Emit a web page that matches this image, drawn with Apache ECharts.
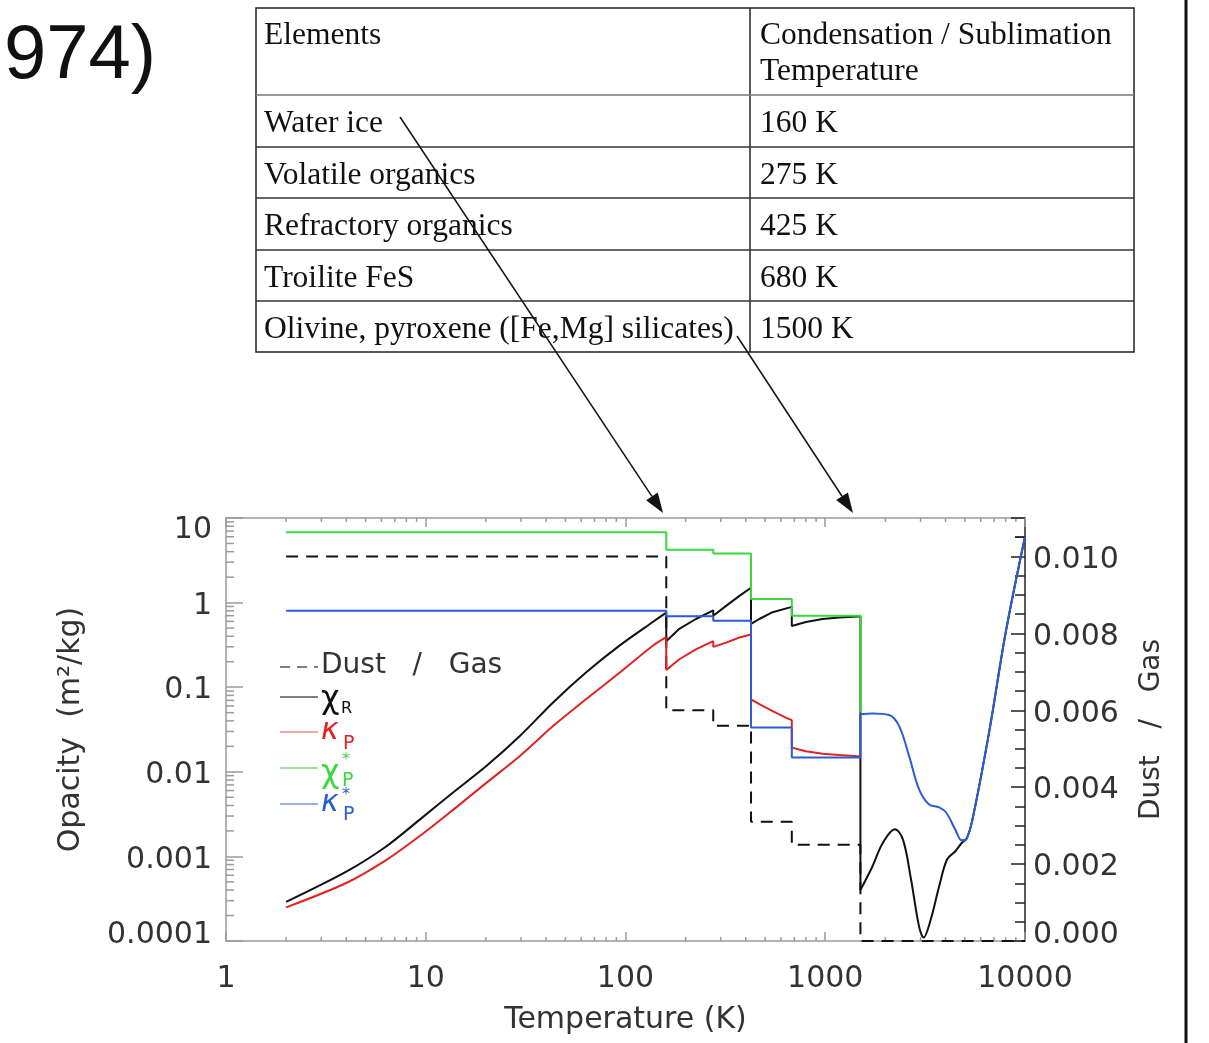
<!DOCTYPE html>
<html>
<head>
<meta charset="utf-8">
<script src="https://cdn.jsdelivr.net/npm/echarts@6/dist/echarts.min.js"></script>
<style>
  html, body { margin: 0; padding: 0; background: #fff; }
  #chart { width: 1209px; height: 1043px; }
</style>
</head>
<body>
<div id="chart"></div>
<script>
// 表格内容
var tableElements = ["Water ice", "Volatile organics", "Refractory organics", "Troilite FeS", "Olivine, pyroxene ([Fe,Mg] silicates)"];
var tableTemps = ["160 K", "275 K", "425 K", "680 K", "1500 K"];

// 刻度标签
var xTickLabels = ["1", "10", "100", "1000", "10000"];
var yTickLabels = ["0.0001", "0.001", "0.01", "0.1", "1", "10"];
var dustTickLabels = ["0.000", "0.002", "0.004", "0.006", "0.008", "0.010"];

// Dust / Gas（右轴）
var dustT = [2, 160, 160, 275, 275, 425, 425, 680, 680, 1500, 1500, 10000];
var dustGas = [0.0100, 0.0100, 0.0060, 0.0060, 0.0056, 0.0056, 0.0031, 0.0031, 0.0025, 0.0025, 0, 0];

// chi_R 黑线：低温段 / 台阶段 / 高温段
var chiRLowT = [2, 4, 6.36, 9.33, 13.7, 20.1, 29.5, 43.4, 63.6, 93.3, 137, 160];
var chiRLow = [2.9e-4, 6.6e-4, 1.32e-3, 2.72e-3, 5.7e-3, 0.0117, 0.0263, 0.066, 0.15, 0.31, 0.59, 0.76];
var chiRMidT = [160, 160, 186, 225, 275, 275, 320, 372, 425, 425, 468, 545, 680, 680, 800, 970, 1175, 1450, 1500, 1500];
var chiRMid = [0.76, 0.35, 0.49, 0.64, 0.81, 0.70, 0.92, 1.2, 1.5, 0.56, 0.64, 0.77, 0.89, 0.53, 0.59, 0.64, 0.667, 0.686, 0.69, 4.0e-4];
var chiRHighT = [1500, 1722, 1940, 2230, 2450, 2690, 2950, 3110, 3370, 3715, 4070, 4480, 4820, 5100, 5453, 6607, 8000, 10000];
var chiRHigh = [4.0e-4, 7.6e-4, 1.44e-3, 2.1e-3, 1.58e-3, 5.3e-4, 1.48e-4, 1.1e-4, 1.78e-4, 4.4e-4, 9.2e-4, 1.15e-3, 1.44e-3, 1.62e-3, 2.7e-3, 0.029, 0.44, 6.0];

// kappa_P 红线
var kapPLowT = [2, 4, 6.36, 9.33, 13.7, 20.1, 29.5, 43.4, 63.6, 93.3, 137, 160];
var kapPLow = [2.5e-4, 4.85e-4, 9.1e-4, 1.74e-3, 3.55e-3, 7.4e-3, 0.0153, 0.0347, 0.0724, 0.148, 0.309, 0.39];
var kapPMidT = [160, 160, 186, 225, 275, 275, 319, 372, 425, 425, 468, 545, 635, 680, 680, 800, 970, 1175, 1450, 1500];
var kapPMid = [0.39, 0.16, 0.214, 0.28, 0.35, 0.30, 0.336, 0.387, 0.42, 0.072, 0.063, 0.052, 0.0436, 0.0408, 0.0193, 0.0175, 0.0163, 0.0158, 0.0153, 0.0152];

// chi_P* 绿线
var chiPsT = [2, 160, 160, 275, 275, 425, 425, 680, 680, 1500, 1500];
var chiPs = [6.8, 6.8, 4.2, 4.2, 3.8, 3.8, 1.1, 1.1, 0.70, 0.70, 0.05];

// kappa_P* 蓝线：台阶段 / 高温段
var kapPsMidT = [2, 160, 160, 275, 275, 425, 425, 680, 680, 1500, 1500];
var kapPsMid = [0.80, 0.80, 0.69, 0.69, 0.61, 0.61, 0.0335, 0.0335, 0.0148, 0.0148, 0.048];
var kapPsHighT = [1500, 1722, 2089, 2344, 2630, 2950, 3311, 3715, 4030, 4466, 4820, 5100, 5453, 6607, 8000, 10000];
var kapPsHigh = [0.048, 0.049, 0.047, 0.0347, 0.0153, 0.0062, 0.0041, 0.0038, 0.0033, 0.0021, 0.00155, 0.00162, 0.0027, 0.029, 0.44, 6.0];

function zip(a, b) {
  return a.map(function (t, i) { return [t, b[i]]; });
}

var axisFont = "DejaVu Sans";
var textColor = "#333";
var frameGray = "#9a9a9a";
var cBlack = "#111", cRed = "#e32222", cGreen = "#3ad83a", cBlue = "#2a5cd6";

var chart = echarts.init(document.getElementById("chart"));

function lineSeries(name, T, v, color, yIdx, smooth, dash) {
  return {
    name: name,
    type: "line",
    xAxisIndex: 0,
    yAxisIndex: yIdx,
    data: zip(T, v),
    symbol: "none",
    smooth: smooth,
    animation: false,
    lineStyle: { color: color, width: 2, type: dash || "solid" },
  };
}

// 标签微调：首尾标签向内收
function labelRich(size) {
  var base = { fontFamily: axisFont, fontSize: size, color: textColor };
  return {
    n: Object.assign({ padding: [7, 0, 0, 0] }, base),
    hi: Object.assign({ padding: [25, 0, 0, 0] }, base),
    lo: Object.assign({ padding: [0, 0, 12, 0] }, base),
  };
}

var option = {
  backgroundColor: "#fff",
  animation: false,
  grid: { left: 226, right: 184, top: 518, bottom: 102, outerBoundsMode: "none" },
  xAxis: [
    {
      type: "log",
      logBase: 10,
      min: 1,
      max: 10000,
      position: "bottom",
      name: "Temperature (K)",
      nameLocation: "middle",
      nameGap: 64,
      nameTextStyle: { fontFamily: axisFont, fontSize: 30, color: textColor },
      axisLine: { lineStyle: { color: frameGray, width: 1.5 } },
      axisTick: { inside: true, length: 9, lineStyle: { color: frameGray, width: 1.5 } },
      axisLabel: {
        margin: 23,
        fontFamily: axisFont,
        fontSize: 30,
        color: textColor,
        formatter: function (v) { return xTickLabels[Math.round(Math.log10(v))] || ""; },
      },
      splitLine: { show: false },
    },
    {
      type: "log",
      logBase: 10,
      min: 1,
      max: 10000,
      position: "top",
      axisLine: { lineStyle: { color: frameGray, width: 1.5 } },
      axisTick: { inside: true, length: 9, lineStyle: { color: frameGray, width: 1.5 } },
      axisLabel: { show: false },
      splitLine: { show: false },
    },
  ],
  yAxis: [
    {
      type: "log",
      logBase: 10,
      min: 0.0001,
      max: 10,
      position: "left",
      name: "Opacity  (m²/kg)",
      nameLocation: "middle",
      nameGap: 140,
      nameTextStyle: { fontFamily: axisFont, fontSize: 30, color: textColor },
      axisLine: { lineStyle: { color: frameGray, width: 1.5 } },
      axisTick: { inside: true, length: 17, lineStyle: { color: frameGray, width: 1.5 } },
      axisLabel: {
        margin: 14,
        fontFamily: axisFont,
        fontSize: 30,
        color: textColor,
        rich: labelRich(30),
        formatter: function (v) {
          var k = Math.round(Math.log10(v)) + 4;
          if (!yTickLabels[k]) return "";
          var tag = k === 0 ? "lo" : (k === yTickLabels.length - 1 ? "hi" : "n");
          return "{" + tag + "|" + yTickLabels[k] + "}";
        },
      },
      splitLine: { show: false },
    },
    {
      type: "value",
      min: 0,
      max: 0.011,
      interval: 0.002,
      position: "right",
      name: "Dust   /   Gas",
      nameLocation: "middle",
      nameGap: 113,
      nameRotate: 90,
      nameTextStyle: { fontFamily: axisFont, fontSize: 28, color: textColor },
      axisLine: { lineStyle: { color: "#222", width: 1.5 } },
      axisTick: { inside: true, length: 14, lineStyle: { color: "#222", width: 1.5 } },
      minorTick: { show: true, splitNumber: 4, length: 10, lineStyle: { color: "#222", width: 1.5 } },
      axisLabel: {
        margin: 8,
        fontFamily: axisFont,
        fontSize: 30,
        color: textColor,
        rich: labelRich(30),
        formatter: function (v) {
          var k = Math.round(v / 0.002);
          if (Math.abs(v - k * 0.002) > 1e-9 || !dustTickLabels[k]) return "";
          return "{" + (k === 0 ? "lo" : "n") + "|" + dustTickLabels[k] + "}";
        },
      },
      splitLine: { show: false },
    },
  ],
  series: [
    lineSeries("Dust / Gas", dustT, dustGas, cBlack, 1, false, [12, 8]),
    lineSeries("chiR", chiRLowT, chiRLow, cBlack, 0, 0.3),
    lineSeries("chiR", chiRMidT, chiRMid, cBlack, 0, false),
    lineSeries("chiR", chiRHighT, chiRHigh, cBlack, 0, 0.35),
    lineSeries("kappaP", kapPLowT, kapPLow, cRed, 0, 0.3),
    lineSeries("kappaP", kapPMidT, kapPMid, cRed, 0, false),
    lineSeries("chiPstar", chiPsT, chiPs, cGreen, 0, false),
    lineSeries("kappaPstar", kapPsMidT, kapPsMid, cBlue, 0, false),
    lineSeries("kappaPstar", kapPsHighT, kapPsHigh, cBlue, 0, 0.35),
  ],
};

chart.setOption(option);

// ---- 其余图形：次刻度、图例、表格、箭头 ----
var g = [];

// x 轴次刻度（上下）
var yTopPx = chart.convertToPixel({ yAxisIndex: 0 }, 10);
var yBotPx = chart.convertToPixel({ yAxisIndex: 0 }, 0.0001);
var xLeftPx = chart.convertToPixel({ xAxisIndex: 0 }, 1);
var xRightPx = chart.convertToPixel({ xAxisIndex: 0 }, 10000);
for (var d = 1; d <= 1000; d *= 10) {
  for (var m = 2; m <= 9; m++) {
    var px = chart.convertToPixel({ xAxisIndex: 0 }, m * d);
    g.push({ type: "line", shape: { x1: px, y1: yBotPx, x2: px, y2: yBotPx - 4 }, style: { stroke: frameGray, lineWidth: 1.5 } });
    g.push({ type: "line", shape: { x1: px, y1: yTopPx, x2: px, y2: yTopPx + 4 }, style: { stroke: frameGray, lineWidth: 1.5 } });
  }
}
// 左 y 轴次刻度
for (var e = 0.0001; e < 5; e *= 10) {
  for (var n = 2; n <= 9; n++) {
    var py = chart.convertToPixel({ yAxisIndex: 0 }, n * e);
    g.push({ type: "line", shape: { x1: xLeftPx, y1: py, x2: xLeftPx + 8, y2: py }, style: { stroke: frameGray, lineWidth: 1.5 } });
  }
}
// 右轴顶端多出的次刻度
var pyTop = chart.convertToPixel({ yAxisIndex: 1 }, 0.0105);
g.push({ type: "line", shape: { x1: xRightPx, y1: pyTop, x2: xRightPx - 10, y2: pyTop }, style: { stroke: "#222", lineWidth: 1.5 } });

// 图例
var lgX1 = 280, lgX2 = 318, tx = 321;
function lgLine(y, color, dash) {
  g.push({ type: "line", shape: { x1: lgX1, y1: y, x2: lgX2, y2: y }, style: { stroke: color, lineWidth: 1.5, lineDash: dash || null } });
}
function lgText(x, y, txt, size, color, italic) {
  g.push({ type: "text", x: x, y: y, style: { text: txt, fontFamily: axisFont, fontSize: size, fontStyle: italic ? "italic" : "normal", fill: color, verticalAlign: "middle", align: "left" } });
}
lgLine(667, "#555", [10, 7]);
lgText(tx, 666, "Dust   /   Gas", 28, textColor);
lgLine(697, "#555");
lgText(tx, 700, "χ", 32, cBlack);
lgText(341, 709, "R", 16, cBlack);
lgLine(732, "#e88");
lgText(tx, 731, "κ", 30, cRed, true);
lgText(343, 744, "P", 19, cRed);
lgLine(768, "#7d7");
lgText(tx, 774, "χ", 32, cGreen);
lgText(342, 781, "P", 19, cGreen);
lgText(342, 760, "*", 16, cGreen);
lgLine(804, "#79d");
lgText(tx, 803, "κ", 30, cBlue, true);
lgText(343, 815, "P", 19, cBlue);
lgText(342, 795, "*", 16, cBlue);

// 表格
var tL = 256, tM = 750, tR = 1134;
var rowY = [8, 95, 147, 198, 250, 301, 352];
var serif = "Liberation Serif";
g.push({ type: "rect", shape: { x: tL, y: rowY[0], width: tR - tL, height: rowY[6] - rowY[0] }, style: { fill: null, stroke: "#222", lineWidth: 1.5 } });
g.push({ type: "line", shape: { x1: tM, y1: rowY[0], x2: tM, y2: rowY[6] }, style: { stroke: "#222", lineWidth: 1.5 } });
for (var r = 1; r <= 5; r++) {
  g.push({ type: "line", shape: { x1: tL, y1: rowY[r], x2: tR, y2: rowY[r] }, style: { stroke: r === 1 ? "#777" : "#333", lineWidth: 1.5 } });
}
function cell(x, y, txt) {
  g.push({ type: "text", x: x, y: y, style: { text: txt, fontFamily: serif, fontSize: 31.5, fill: "#111", verticalAlign: "middle", align: "left" } });
}
cell(264, 36, "Elements");
cell(760, 36, "Condensation / Sublimation");
cell(760, 72, "Temperature");
for (var i = 0; i < tableElements.length; i++) {
  var cy = (rowY[i + 1] + rowY[i + 2]) / 2 + 3;
  cell(264, cy, tableElements[i]);
  cell(760, cy, tableTemps[i]);
}

// 箭头
function arrow(x1, y1, x2, y2) {
  var dx = x2 - x1, dy = y2 - y1, len = Math.sqrt(dx * dx + dy * dy);
  var ux = dx / len, uy = dy / len, hl = 20, hw = 7;
  var bx = x2 - ux * hl, by = y2 - uy * hl;
  g.push({ type: "line", shape: { x1: x1, y1: y1, x2: bx, y2: by }, style: { stroke: "#111", lineWidth: 1.5 } });
  g.push({ type: "polygon", shape: { points: [[x2, y2], [bx - uy * hw, by + ux * hw], [bx + uy * hw, by - ux * hw]] }, style: { fill: "#111" } });
}
arrow(400, 117, 663, 513);
arrow(737, 336, 853, 513);

// 右侧竖线
g.push({ type: "rect", shape: { x: 1184.5, y: 0, width: 3, height: 1043 }, style: { fill: "#111" } });

// 左上角残字
g.push({ type: "text", x: 4, y: 57, style: { text: "974)", fontFamily: "Liberation Sans", fontSize: 76, fill: "#111", verticalAlign: "middle", align: "left" } });

chart.setOption({ graphic: g });

window.addEventListener("resize", function () {
  chart.resize();
});
</script>
</body>
</html>
